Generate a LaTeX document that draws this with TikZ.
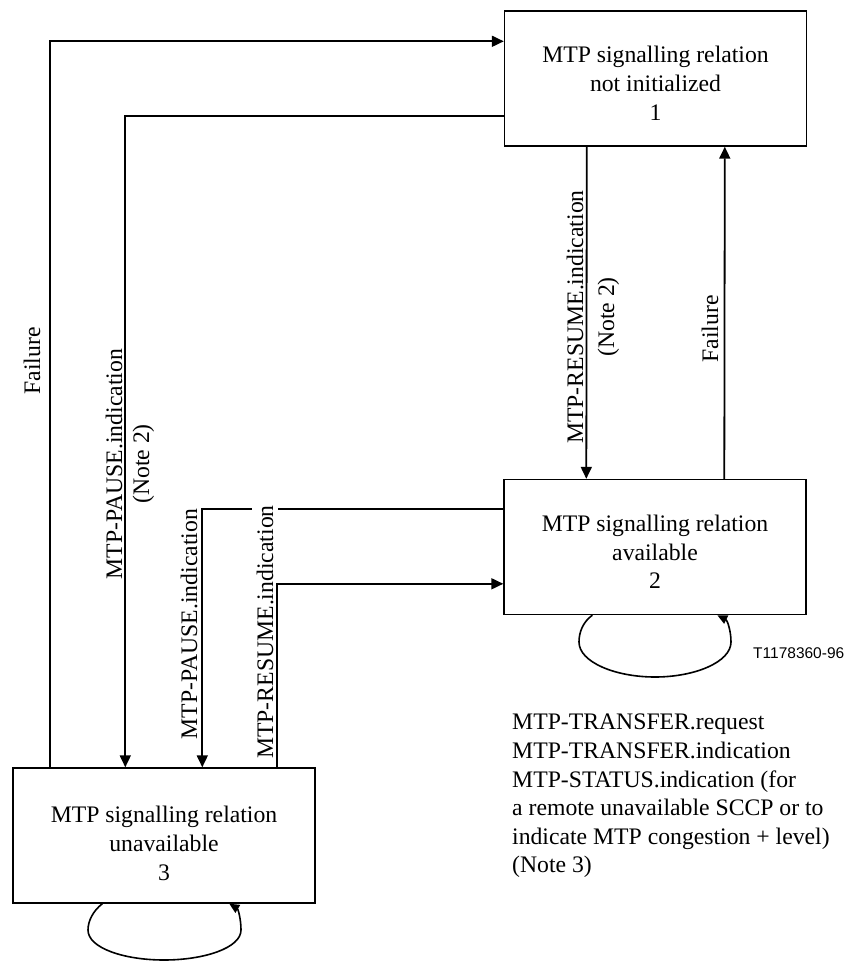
\documentclass[tikz,border=0pt]{standalone}
\usepackage{fontspec}
\setmainfont{Liberation Serif}
\newfontfamily\lsans{Liberation Sans}
\usetikzlibrary{arrows.meta}
\begin{document}
\begin{tikzpicture}[x=1pt,y=-1pt,
  every node/.style={font=\fontsize{23.7}{28.6}\selectfont},
  box/.style={draw,line width=1.4pt,minimum width=302pt,minimum height=135pt,inner sep=0pt},
  boxtext/.style={anchor=north,align=center,inner sep=0pt},
  arr/.style={line width=1.8pt,-{Triangle[length=12pt,width=11pt]}},
  loopa/.style={line width=1.6pt,-{Triangle[length=10pt,width=9pt]}},
  lbl/.style={rotate=90,align=center,inner sep=0pt}]
\useasboundingbox (0,0) rectangle (848,962);

% state boxes
\node[box] (b1) at (655.5,78.5) {};
\node[box] (b2) at (655,547) {};
\node[box] (b3) at (164,835.5) {};
\node[boxtext] (t1) at ([yshift=-36pt]b1.north) {MTP signalling relation\\not initialized\\1};
\node[boxtext] (t2) at ([yshift=-36pt]b2.north) {MTP signalling relation\\available\\2};
\node[boxtext] (t3) at ([yshift=-39pt]b3.north) {MTP signalling relation\\unavailable\\3};

% connectors
\draw[arr] ([xshift=38pt]b3.north west) |- ([yshift=-31pt]b1.north west);
\draw[arr] ([yshift=-106pt]b1.north west) -| ([xshift=113pt]b3.north west);
\draw[arr] ([yshift=-30pt]b2.north west) -| ([xshift=190pt]b3.north west);
\draw[arr] ([xshift=83pt]b1.south west) -- ([xshift=83pt]b2.north west);
\draw[arr] ([xshift=221pt]b2.north west) -- ([xshift=221pt]b1.south west);

% labels
\node[lbl] (lf1) at (32,361) {Failure};
\node[lbl,font=\fontsize{23.7}{27}\selectfont] (lp1) at (130,464) {MTP-PAUSE.indication\\(Note 2)};
\node[lbl] (lp2) at (189,624) {MTP-PAUSE.indication};
\node[lbl,fill=white,inner ysep=5pt,inner xsep=1pt] (lr2) at (265,632) {MTP-RESUME.indication};
\node[lbl,font=\fontsize{23.7}{31}\selectfont] (lr1) at (593,317) {MTP-RESUME.indication\\(Note 2)};
\node[lbl] (lf2) at (710,329) {Failure};

\draw[arr] ([xshift=265pt]b3.north west) |- ([yshift=-105pt]b2.north west);

% self loops
\draw[loopa] ([xshift=89pt]b2.south west) .. controls (583,622) and (579,632) .. (579,642)
  .. controls (579,662) and (615,677) .. (655,677)
  .. controls (695,677) and (731,662) .. (731,642)
  .. controls (731,630) and (727,620) .. ([xshift=214pt]b2.south west);
\draw[loopa] ([xshift=90pt]b3.south west) .. controls (93,911) and (88,921) .. (88,930)
  .. controls (88,948) and (124,960) .. (164,960)
  .. controls (204,960) and (241,948) .. (241,930)
  .. controls (241,919) and (238,909) .. ([xshift=217pt]b3.south west);

% figure code and notes
\node[anchor=west,inner sep=0pt,font=\lsans\fontsize{15.5}{18}\selectfont] (code) at (753,653) {T1178360-96};
\node[anchor=north west,align=left,inner sep=0pt] (notes) at (512,714) {MTP-TRANSFER.request\\MTP-TRANSFER.indication\\MTP-STATUS.indication (for\\a remote unavailable SCCP or to\\indicate MTP congestion + level)\\(Note 3)};
\end{tikzpicture}
\end{document}
